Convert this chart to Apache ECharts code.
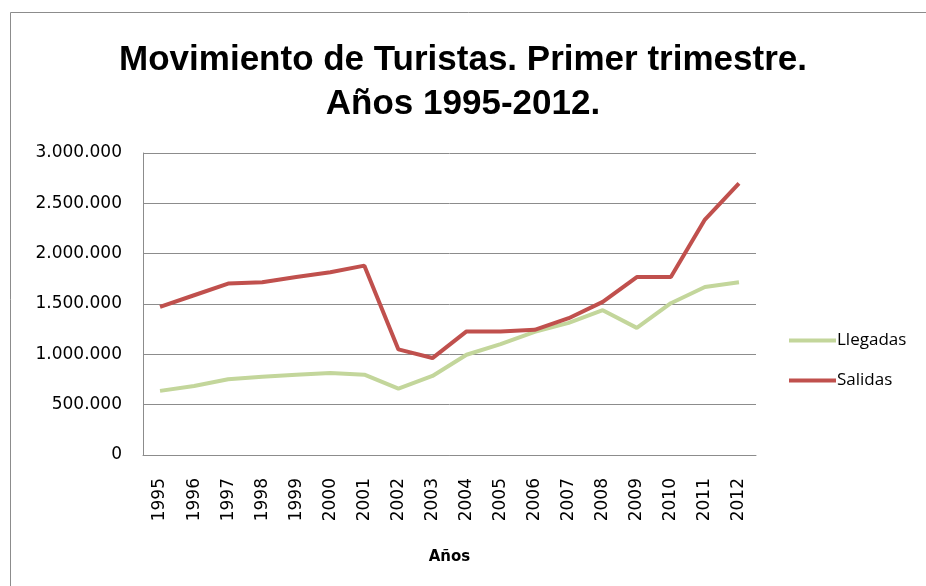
<!DOCTYPE html>
<html>
<head>
<meta charset="utf-8">
<script src="https://cdn.jsdelivr.net/npm/echarts@6/dist/echarts.min.js"></script>
<style>
  html, body { margin: 0; padding: 0; background: #fff; }
  #chart { width: 926px; height: 586px; }
</style>
</head>
<body>
<div id="chart"></div>
<script>
// años (eje de categorías)
const years = ['1995', '1996', '1997', '1998', '1999', '2000', '2001', '2002', '2003',
  '2004', '2005', '2006', '2007', '2008', '2009', '2010', '2011', '2012']
// llegadas de turistas, primer trimestre
const llegadas = [637000, 686000, 752000, 778000, 798000, 815000, 798000, 659000, 785000,
  996000, 1102000, 1224000, 1313000, 1438000, 1263000, 1508000, 1669000, 1716000]
// salidas de turistas, primer trimestre
const salidas = [1471000, 1587000, 1703000, 1716000, 1768000, 1815000, 1881000, 1049000, 963000,
  1228000, 1228000, 1243000, 1359000, 1521000, 1768000, 1768000, 2339000, 2699000]

const chart = echarts.init(document.getElementById('chart'))

// separador de miles con punto
const fmt = v => String(v).replace(/\B(?=(\d{3})+(?!\d))/g, '.')

const option = {
  backgroundColor: '#fff',
  animation: false,
  title: {
    text: 'Movimiento de Turistas. Primer trimestre.\nAños 1995-2012.',
    left: 'center',
    top: 33,
    textStyle: {
      fontFamily: 'Liberation Sans, sans-serif',
      fontWeight: 'bold',
      fontSize: 35,
      lineHeight: 44,
      color: '#000'
    }
  },
  grid: { left: 143, right: 170, top: 153, bottom: 131 },
  legend: {
    orient: 'vertical',
    left: 789,
    top: 332,
    padding: 0,
    itemWidth: 47,
    itemHeight: 4,
    itemGap: 23,
    icon: 'rect',
    textStyle: { fontFamily: 'Open Sans', fontSize: 17, color: '#000', padding: [0, 0, 0, -4] },
    data: ['Llegadas', 'Salidas']
  },
  xAxis: {
    type: 'category',
    data: years,
    name: 'Años',
    nameLocation: 'middle',
    nameGap: 95,
    nameTextStyle: { fontFamily: 'DejaVu Sans', fontWeight: 'bold', fontSize: 15, color: '#000' },
    axisLine: { lineStyle: { color: '#8c8c8c', width: 1 } },
    axisTick: { show: false },
    axisLabel: { rotate: 90, fontFamily: 'DejaVu Sans', fontSize: 17, color: '#000', margin: 23 }
  },
  yAxis: {
    type: 'value',
    min: 0,
    max: 3000000,
    interval: 500000,
    axisLine: { show: true, lineStyle: { color: '#8c8c8c', width: 1 } },
    axisTick: { show: false },
    splitLine: { lineStyle: { color: '#8c8c8c', width: 1 } },
    axisLabel: { formatter: fmt, fontFamily: 'DejaVu Sans', fontSize: 17, color: '#000', margin: 21 }
  },
  series: [
    {
      name: 'Llegadas',
      type: 'line',
      data: llegadas,
      symbol: 'none',
      color: '#c3d69b',
      lineStyle: { width: 4, color: '#c3d69b' }
    },
    {
      name: 'Salidas',
      type: 'line',
      data: salidas,
      symbol: 'none',
      color: '#c0504d',
      lineStyle: { width: 4, color: '#c0504d' }
    }
  ],
  // marco exterior del gráfico
  graphic: [{
    type: 'rect',
    shape: { x: 10.5, y: 12.5, width: 930, height: 600 },
    style: { fill: null, stroke: '#8c8c8c', lineWidth: 1 },
    silent: true
  }]
}

chart.setOption(option)
</script>
</body>
</html>
